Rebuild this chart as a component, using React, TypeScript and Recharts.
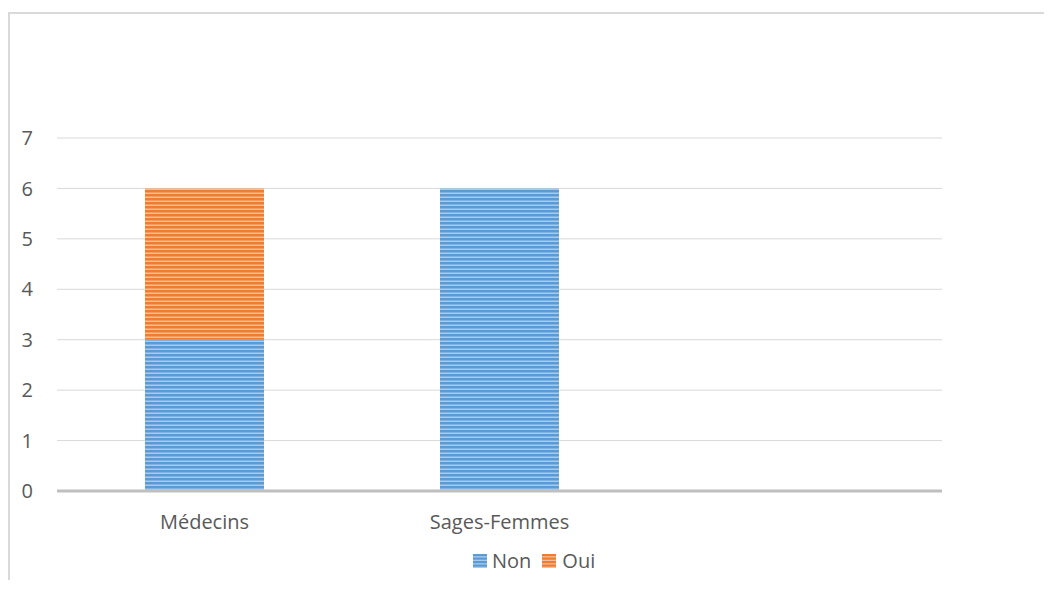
import React from 'react';
import { BarChart, Bar, XAxis, YAxis, CartesianGrid, Legend } from 'recharts';

const categories = ['Médecins', 'Sages-Femmes', ''];
const nonValues: (number | null)[] = [3, 6, null];
const ouiValues: (number | null)[] = [3, 0, null];
const yTicks = [0, 1, 2, 3, 4, 5, 6, 7];
const seriesNames = ['Non', 'Oui'];

const data = categories.map((c, i) => ({ name: c, Non: nonValues[i], Oui: ouiValues[i] }));

const BLUE = '#5B9BD5';
const BLUE_LIGHT = '#A9CBEB';
const ORANGE = '#ED7D31';
const ORANGE_LIGHT = '#F6BE98';
const FONT = '"Open Sans", "Noto Sans", sans-serif';
const TEXT = '#595959';

const Stripes = ({ id, dark, light }: { id: string; dark: string; light: string }) => (
  <pattern id={id} x={0} y={0} width={8} height={4} patternUnits="userSpaceOnUse">
    <rect x={0} y={0} width={8} height={4} fill={dark} />
    <rect x={0} y={2.5} width={8} height={1.5} fill={light} />
  </pattern>
);

const LegendIcon = ({ dark, light }: { dark: string; light: string }) => (
  <svg width={14} height={14} style={{ display: 'block' }}>
    {[0, 1, 2, 3].map((k) => (
      <React.Fragment key={k}>
        <rect x={0} y={k * 3.5} width={14} height={3.5} fill={dark} />
        <rect x={0} y={k * 3.5 + 2.2} width={14} height={1.3} fill={light} />
      </React.Fragment>
    ))}
  </svg>
);

const LegendContent = () => (
  <div style={{ display: 'flex', alignItems: 'center', fontFamily: FONT, fontSize: 20, color: TEXT, lineHeight: '28px' }}>
    <LegendIcon dark={BLUE} light={BLUE_LIGHT} />
    <span style={{ marginLeft: 5, marginRight: 11 }}>{seriesNames[0]}</span>
    <LegendIcon dark={ORANGE} light={ORANGE_LIGHT} />
    <span style={{ marginLeft: 6 }}>{seriesNames[1]}</span>
  </div>
);

export default function App() {
  return (
    <div style={{ paddingTop: 4 }}>
      <div
        style={{
          width: 1042,
          height: 566,
          borderTop: '2px solid #d9d9d9',
          borderLeft: '2px solid #d9d9d9',
          background: '#fff',
        }}
      >
        <BarChart
          width={1042}
          height={566}
          data={data}
          margin={{ top: 124, right: 110, left: 0, bottom: 49 }}
        >
          <defs>
            <Stripes id="stripeBlue" dark={BLUE} light={BLUE_LIGHT} />
            <Stripes id="stripeOrange" dark={ORANGE} light={ORANGE_LIGHT} />
          </defs>
          <CartesianGrid vertical={false} stroke="#d9d9d9" strokeWidth={1} />
          <XAxis
            dataKey="name"
            height={40}
            tickLine={false}
            tickSize={0}
            tickMargin={24}
            axisLine={{ stroke: '#bfbfbf', strokeWidth: 3 }}
            tick={{ fill: TEXT, fontSize: 20, fontFamily: FONT }}
            interval={0}
          />
          <YAxis
            width={47}
            domain={[0, 7]}
            ticks={yTicks}
            interval={0}
            axisLine={false}
            tickLine={false}
            tickSize={0}
            tickMargin={24}
            tick={{ fill: TEXT, fontSize: 20, fontFamily: FONT }}
          />
          <Legend
            verticalAlign="middle"
            align="center"
            layout="horizontal"
            content={<LegendContent />}
            wrapperStyle={{ top: 533, left: 463, width: 'auto' }}
          />
          <Bar dataKey="Non" stackId="a" fill="url(#stripeBlue)" barSize={119} isAnimationActive={false} />
          <Bar dataKey="Oui" stackId="a" fill="url(#stripeOrange)" barSize={119} isAnimationActive={false} />
        </BarChart>
      </div>
    </div>
  );
}
